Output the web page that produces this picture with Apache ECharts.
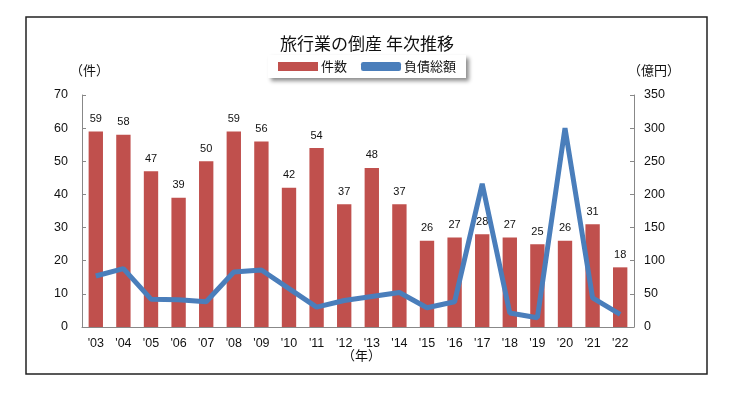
<!DOCTYPE html>
<html><head><meta charset="utf-8">
<script src="https://cdn.jsdelivr.net/npm/echarts@6/dist/echarts.min.js"></script>
<style>html,body{margin:0;padding:0;background:#fff}#c{width:734px;height:397px}</style>
</head><body><div id="c"></div>
<script>
var categories = ["'03","'04","'05","'06","'07","'08","'09","'10","'11","'12","'13","'14","'15","'16","'17","'18","'19","'20","'21","'22"];
var counts = [59,58,47,39,50,59,56,42,54,37,48,37,26,27,28,27,25,26,31,18];
var debts = [77,88,42,41,38,83,86,58,30,40,46,52,29,38,216,21,14,300,44,19];
var leftTicks = {min:0,max:70,interval:10};
var rightTicks = {min:0,max:350,interval:50};
var F = '"Liberation Sans", Arial, "Noto Sans CJK JP", sans-serif';
var chart = echarts.init(document.getElementById('c'));
chart.setOption({
  animation:false,
  backgroundColor:'#fff',
  textStyle:{fontFamily:F},
  title:{text:'旅行業の倒産 年次推移',left:'center',top:30,textStyle:{fontSize:17,fontWeight:'normal',color:'#111',fontFamily:'"Noto Sans CJK JP", sans-serif'}},
  graphic:[
    {type:'rect',shape:{x:26,y:17,width:681,height:357},style:{fill:'none',stroke:'#222',lineWidth:1.5},z:-1},
    {type:'text',left:70,top:64,style:{text:'（件）',font:'13px "Noto Sans CJK JP"',fill:'#111'}},
    {type:'text',left:628,top:64,style:{text:'（億円）',font:'13px "Noto Sans CJK JP"',fill:'#111'}},
    {type:'text',left:342,top:349,style:{text:'（年）',font:'13px "Noto Sans CJK JP"',fill:'#111'}}
  ],
  legend:{
    top:55,left:'center',
    data:[{name:'件数',icon:'rect'},{name:'負債総額',icon:'roundRect'}],
    itemWidth:40,itemHeight:9,itemGap:14,
    padding:[5,10,5,10],
    backgroundColor:'#fff',
    shadowColor:'rgba(0,0,0,0.45)',shadowBlur:4,shadowOffsetX:3,shadowOffsetY:3,
    textStyle:{fontSize:13,color:'#111',fontFamily:'"Noto Sans CJK JP", sans-serif',padding:[0,0,0,-2]}
  },
  grid:{left:82,right:100,top:95,bottom:70},
  xAxis:{
    type:'category',data:categories,boundaryGap:true,
    axisLine:{lineStyle:{color:'#888'}},
    axisTick:{inside:true,length:4,lineStyle:{color:'#888'}},
    axisLabel:{fontSize:12.5,color:'#111',margin:10}
  },
  yAxis:[
    {type:'value',min:leftTicks.min,max:leftTicks.max,interval:leftTicks.interval,position:'left',
     axisLine:{show:true,lineStyle:{color:'#888'}},axisTick:{show:true,inside:true,length:4,lineStyle:{color:'#888'}},
     splitLine:{show:false},axisLabel:{fontSize:12.5,color:'#111',margin:14}},
    {type:'value',min:rightTicks.min,max:rightTicks.max,interval:rightTicks.interval,position:'right',
     axisLine:{show:true,lineStyle:{color:'#888'}},axisTick:{show:true,inside:true,length:4,lineStyle:{color:'#888'}},
     splitLine:{show:false},axisLabel:{fontSize:12.5,color:'#111',margin:10}}
  ],
  series:[
    {name:'件数',type:'bar',data:counts,yAxisIndex:0,barWidth:'52%',
     itemStyle:{color:'#C0504D'},
     label:{show:true,position:'top',fontSize:11,color:'#111',distance:7}},
    {name:'負債総額',type:'line',data:debts,yAxisIndex:1,symbol:'none',
     lineStyle:{width:5,color:'#4A7EBB'},itemStyle:{color:'#4A7EBB'},z:5}
  ]
});
</script></body></html>
